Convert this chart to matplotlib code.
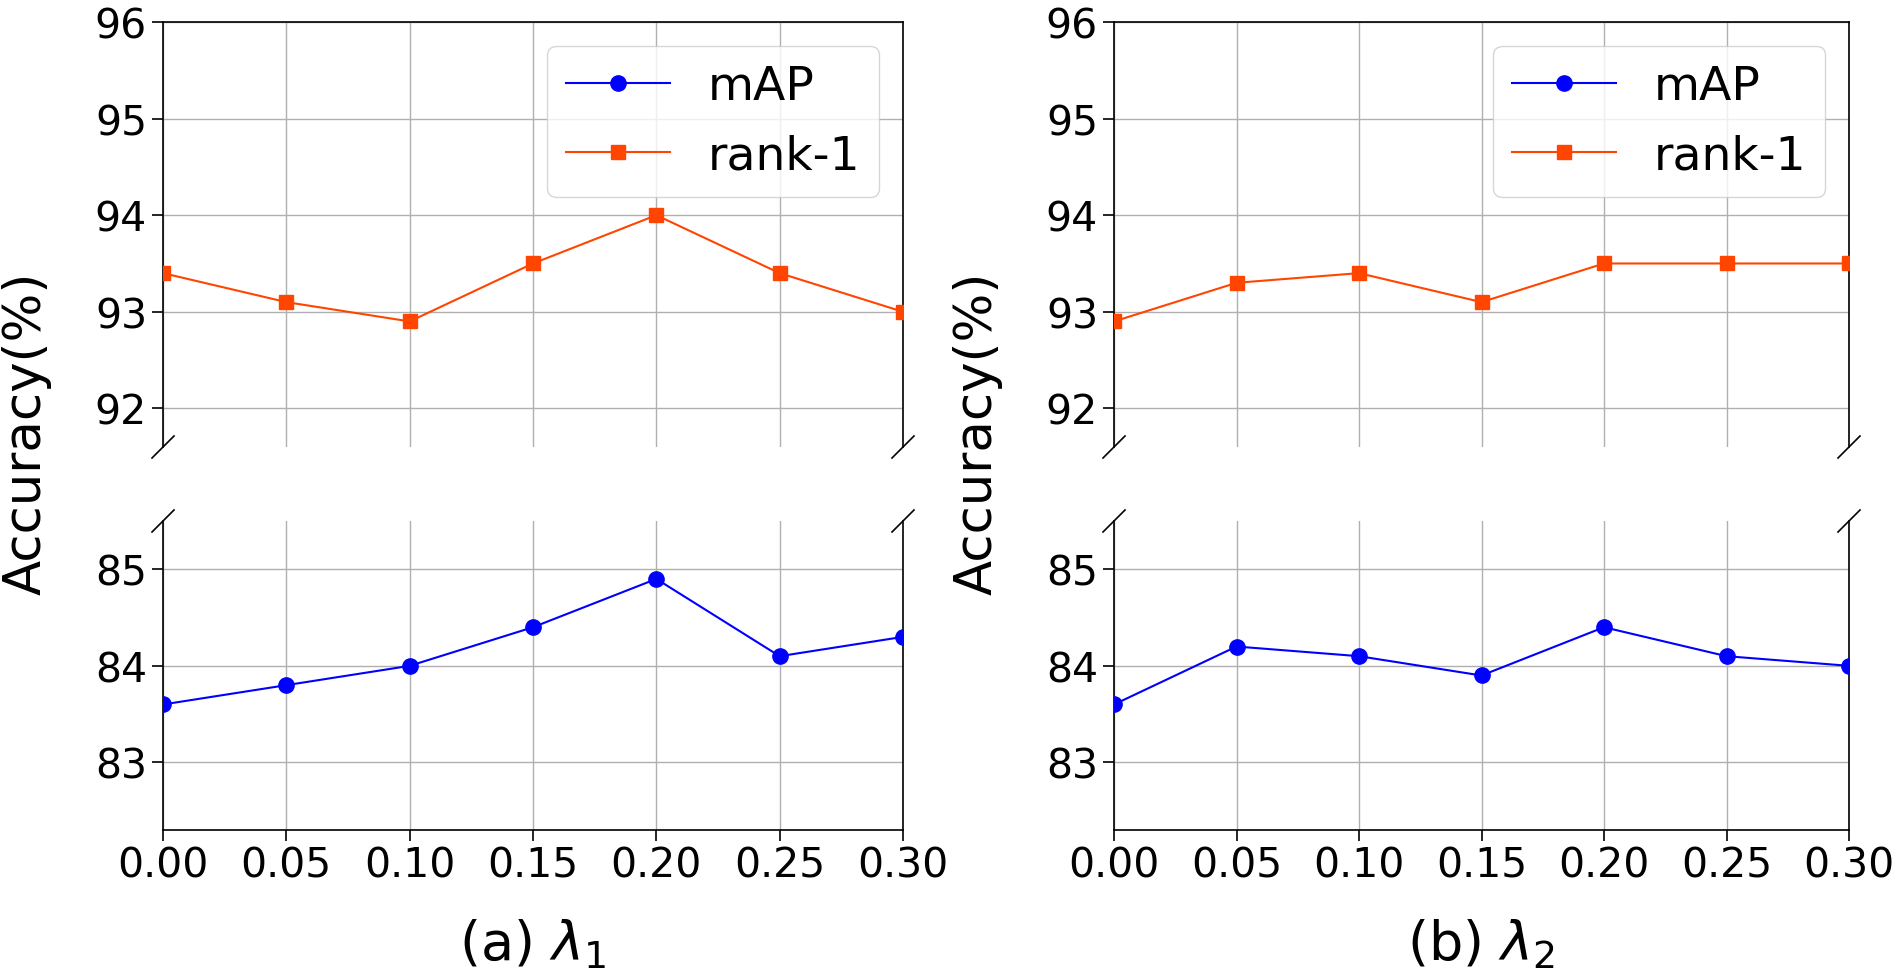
import numpy as np
import matplotlib
matplotlib.use("Agg")
import matplotlib.pyplot as plt

lam = [0.00, 0.05, 0.10, 0.15, 0.20, 0.25, 0.30]
xticks = [0.00, 0.05, 0.10, 0.15, 0.20, 0.25, 0.30]

# (a) lambda_1
map_a = [83.6, 83.8, 84.0, 84.4, 84.9, 84.1, 84.3]
rank1_a = [93.4, 93.1, 92.9, 93.5, 94.0, 93.4, 93.0]
# (b) lambda_2
map_b = [83.6, 84.2, 84.1, 83.9, 84.4, 84.1, 84.0]
rank1_b = [92.9, 93.3, 93.4, 93.1, 93.5, 93.5, 93.5]

titles = [r"(a) $\lambda_1$", r"(b) $\lambda_2$"]
top_ticks = [92, 93, 94, 95, 96]
bot_ticks = [83, 84, 85]

W, H = 1903, 979
fig = plt.figure(figsize=(W / 100, H / 100), dpi=100)

panels = [(163, 903, map_a, rank1_a, titles[0]),
          (1114, 1849, map_b, rank1_b, titles[1])]

top_y = (23, 448)
bot_y = (522, 831)


def frac_box(x0, x1, y0, y1):
    return [x0 / W, 1 - y1 / H, (x1 - x0) / W, (y1 - y0) / H]


for x0, x1, m, r, t in panels:
    ax_top = fig.add_axes(frac_box(x0, x1, *top_y))
    ax_bot = fig.add_axes(frac_box(x0, x1, *bot_y))
    for ax in (ax_top, ax_bot):
        ax.plot(lam, m, color="blue", marker="o", markersize=11, lw=1.5, label="mAP", zorder=3)
        ax.plot(lam, r, color="orangered", marker="s", markersize=10, lw=1.5, label="rank-1", zorder=3)
        ax.set_xlim(0, 0.3)
        ax.set_xticks(xticks)
        ax.grid(True, color="#b0b0b0", lw=1.0)
        ax.tick_params(labelsize=29.5, length=8, width=1.2)
        for s in ax.spines.values():
            s.set_linewidth(1.2)
    ax_top.set_ylim(91.6, 96)
    ax_top.set_yticks(top_ticks)
    ax_bot.set_ylim(82.3, 85.5)
    ax_bot.set_yticks(bot_ticks)
    ax_bot.set_xticklabels(["%.2f" % v for v in xticks])

    ax_top.spines["bottom"].set_visible(False)
    ax_bot.spines["top"].set_visible(False)
    ax_top.tick_params(axis="x", bottom=False, labelbottom=False)
    ax_bot.tick_params(axis="x", top=False)

    # break marks
    dpx = 11
    for ax, yb, (ya, yc) in ((ax_top, 0, top_y), (ax_bot, 1, bot_y)):
        dx = dpx / (x1 - x0)
        dy = dpx / (yc - ya)
        kw = dict(transform=ax.transAxes, color="k", clip_on=False, lw=1.2)
        ax.plot((-dx, dx), (yb - dy, yb + dy), **kw)
        ax.plot((1 - dx, 1 + dx), (yb - dy, yb + dy), **kw)

    ax_top.legend(loc="upper right", fontsize=34, handlelength=2.2)

    fig.text((x0 + x1) / 2 / W, 1 - 944 / H, t, fontsize=39, ha="center", va="center")
    fig.text((x0 - 136) / W, 1 - 433 / H, "Accuracy(%)", fontsize=37,
             rotation=90, ha="center", va="center")

fig.savefig("out.png", dpi=100)
